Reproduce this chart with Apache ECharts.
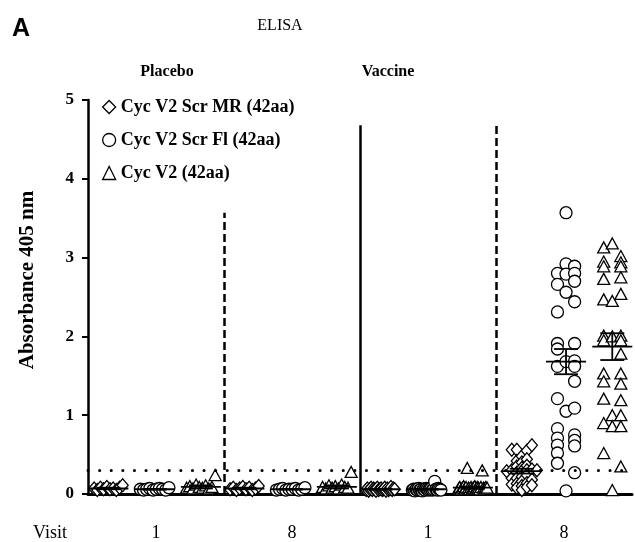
<!DOCTYPE html>
<html>
<head>
<meta charset="utf-8">
<script src="https://cdn.jsdelivr.net/npm/echarts@6/dist/echarts.min.js"></script>
<style>
  html, body { margin: 0; padding: 0; background: #fff; }
  #chart { width: 635px; height: 542px; }
</style>
</head>
<body>
<div id="chart"></div>
<script>
// groups on x: 0 = placebo visit 1, 1 = placebo visit 8, 2 = vaccine visit 1, 3 = vaccine visit 8
var visitLabels = ['1', '8', '1', '8'];
var yTicks = [0, 1, 2, 3, 4, 5];
var cutoff = 0.3;

// Cyc V2 Scr MR (diamonds), values near zero
var mrPlaceboV1 = [0.07, 0.05, 0.08, 0.06, 0.09, 0.06, 0.07, 0.05, 0.08, 0.11];
var mrPlaceboV8 = [0.06, 0.08, 0.05, 0.07, 0.09, 0.06, 0.08, 0.05, 0.07, 0.10];
var mrVaccineV1 = [0.05, 0.07, 0.04, 0.06, 0.08, 0.05, 0.07, 0.06, 0.04, 0.08, 0.05, 0.06,
                   0.07, 0.05, 0.06, 0.08, 0.04, 0.07, 0.05, 0.06, 0.09, 0.05, 0.07, 0.06];
// vaccine visit 8 diamonds, in lanes (left to right)
var mrVaccineV8 = [
  [0.29],
  [0.56, 0.30, 0.20, 0.12],
  [0.56, 0.42, 0.35, 0.27, 0.20, 0.13, 0.08],
  [0.48, 0.40, 0.33, 0.29, 0.22, 0.16, 0.10, 0.05],
  [0.55, 0.44, 0.36, 0.30, 0.24, 0.14, 0.09],
  [0.62, 0.31, 0.18, 0.11],
  [0.30]
];

// Cyc V2 Scr Fl (circles)
var flPlaceboV1 = [0.06, 0.05, 0.06, 0.07, 0.05, 0.06, 0.07, 0.06, 0.05, 0.08];
var flPlaceboV8 = [0.05, 0.06, 0.07, 0.05, 0.06, 0.06, 0.07, 0.05, 0.06, 0.08];
var flVaccineV1 = [0.05, 0.06, 0.04, 0.06, 0.05, 0.07, 0.05, 0.06, 0.04, 0.06, 0.05, 0.07,
                   0.06, 0.05, 0.06, 0.07, 0.05, 0.06, 0.16, 0.06, 0.05, 0.07, 0.06, 0.05];
var flVaccineV8 = [
  [2.80, 2.66, 2.31, 1.91, 1.84, 1.62, 1.21, 0.83, 0.71, 0.62, 0.52, 0.39],
  [3.57, 2.92, 2.79, 2.56, 1.68, 1.05, 0.04],
  [2.89, 2.80, 2.70, 2.44, 1.91, 1.69, 1.62, 1.43, 1.09, 0.75, 0.68, 0.61, 0.27]
];

// Cyc V2 (triangles)
var cycPlaceboV1 = [0.08, 0.10, 0.07, 0.12, 0.09, 0.08, 0.11, 0.07, 0.09, 0.24];
var cycPlaceboV8 = [0.09, 0.07, 0.11, 0.08, 0.10, 0.07, 0.12, 0.09, 0.08, 0.28];
var cycVaccineV1 = [0.07, 0.09, 0.06, 0.08, 0.10, 0.07, 0.09, 0.33, 0.08, 0.06, 0.09, 0.07,
                    0.08, 0.10, 0.07, 0.09, 0.08, 0.06, 0.09, 0.30, 0.08, 0.07, 0.09, 0.08];
var cycVaccineV8 = [
  [3.13, 2.95, 2.89, 2.73, 2.47, 2.01, 1.95, 1.53, 1.43, 1.21, 0.90, 0.52],
  [3.18, 2.45, 2.00, 1.00, 0.86, 0.05],
  [3.02, 2.94, 2.89, 2.75, 2.54, 2.01, 1.95, 1.78, 1.53, 1.40, 1.19, 1.00, 0.86, 0.35]
];

// mean and SEM per column: P1 D,C,T  P8 D,C,T  V1 D,C,T  V8 D,C,T
var meanVals = [0.07, 0.06, 0.09, 0.07, 0.06, 0.09, 0.06, 0.06, 0.08, 0.29, 1.68, 1.87];
var semVals = [0.01, 0.005, 0.02, 0.01, 0.005, 0.02, 0.005, 0.005, 0.015, 0.03, 0.16, 0.17];

var colOffset = { mr: 0.15, fl: 0.49, cyc: 0.83 };
var v8Offset = { mr: 0.19, fl: 0.515, cyc: 0.855 };

function spread(values, group, col) {
  var pts = [];
  var n = values.length;
  for (var i = 0; i < n; i++) {
    var x = group + col + (n > 1 ? (i / (n - 1) - 0.5) * 0.21 : 0);
    pts.push([x, values[i]]);
  }
  return pts;
}
function lanes(laneArr, group, center, step) {
  var pts = [];
  var mid = (laneArr.length - 1) / 2;
  for (var l = 0; l < laneArr.length; l++) {
    for (var i = 0; i < laneArr[l].length; i++) {
      pts.push([group + center + (l - mid) * step, laneArr[l][i]]);
    }
  }
  return pts;
}

var mrData = [].concat(spread(mrPlaceboV1, 0, colOffset.mr), spread(mrPlaceboV8, 1, colOffset.mr),
  spread(mrVaccineV1, 2, colOffset.mr), lanes(mrVaccineV8, 3, v8Offset.mr, 0.037));
var flData = [].concat(spread(flPlaceboV1, 0, colOffset.fl), spread(flPlaceboV8, 1, colOffset.fl),
  spread(flVaccineV1, 2, colOffset.fl), lanes(flVaccineV8, 3, v8Offset.fl, 0.063));
var cycData = [].concat(spread(cycPlaceboV1, 0, colOffset.cyc), spread(cycPlaceboV8, 1, colOffset.cyc),
  spread(cycVaccineV1, 2, colOffset.cyc), lanes(cycVaccineV8, 3, v8Offset.cyc, 0.063));

var meanData = [];
var cols = ['mr', 'fl', 'cyc'];
for (var g = 0; g < 4; g++) {
  for (var c = 0; c < 3; c++) {
    var off = g == 3 ? v8Offset[cols[c]] : colOffset[cols[c]];
    meanData.push([g + off, meanVals[g * 3 + c], semVals[g * 3 + c]]);
  }
}

var serif = 'Liberation Serif';
var symStyle = { color: '#fff', borderColor: '#000', borderWidth: 1.3, opacity: 1 };

var myChart = echarts.init(document.getElementById('chart'));
var option = {
  animation: false,
  backgroundColor: '#fff',
  grid: { left: 88, right: 0, top: 100, bottom: 46 },
  graphic: [
    { type: 'text', left: 12, top: 17, style: { text: 'A', font: 'bold 25px "Liberation Sans"', fill: '#000' } },
    { type: 'text', x: 280, y: 26, style: { text: 'ELISA', font: '16px "Liberation Serif"', fill: '#000', align: 'center', verticalAlign: 'middle' } },
    { type: 'text', x: 167, y: 72, style: { text: 'Placebo', font: 'bold 16px "Liberation Serif"', fill: '#000', align: 'center', verticalAlign: 'middle' } },
    { type: 'text', x: 388, y: 72, style: { text: 'Vaccine', font: 'bold 16px "Liberation Serif"', fill: '#000', align: 'center', verticalAlign: 'middle' } },
    { type: 'text', x: 28, y: 280, rotation: Math.PI / 2, style: { text: 'Absorbance 405 nm', font: 'bold 21px "Liberation Serif"', fill: '#000', align: 'center', verticalAlign: 'middle' } },
    { type: 'text', x: 50, y: 533, style: { text: 'Visit', font: '18px "Liberation Serif"', fill: '#000', align: 'center', verticalAlign: 'middle' } }
  ],
  legend: {
    orient: 'vertical',
    left: 97,
    top: 93,
    itemWidth: 13,
    itemHeight: 13,
    itemGap: 15,
    textStyle: { fontFamily: serif, fontWeight: 'bold', fontSize: 18, color: '#000' },
    data: [
      { name: 'Cyc V2 Scr MR (42aa)', icon: 'diamond', itemStyle: symStyle },
      { name: 'Cyc V2 Scr Fl (42aa)', icon: 'circle', itemStyle: symStyle },
      { name: 'Cyc V2 (42aa)', icon: 'triangle', itemStyle: symStyle }
    ]
  },
  xAxis: {
    type: 'value',
    min: 0,
    max: 4,
    interval: 0.5,
    axisLine: { lineStyle: { color: '#000', width: 3 } },
    axisTick: { show: false },
    splitLine: { show: false },
    axisLabel: {
      margin: 30,
      fontFamily: serif,
      fontSize: 18,
      color: '#000',
      formatter: function (v) {
        var k = v - 0.5;
        if (Math.abs(k - Math.round(k)) < 1e-6 && k >= 0 && k < 4) return visitLabels[Math.round(k)];
        return '';
      }
    }
  },
  yAxis: {
    type: 'value',
    min: yTicks[0],
    max: yTicks[yTicks.length - 1],
    interval: 1,
    axisLine: { show: true, lineStyle: { color: '#000', width: 2.5 } },
    axisTick: { show: true, length: 6, lineStyle: { color: '#000', width: 2 } },
    splitLine: { show: false },
    axisLabel: { margin: 14, fontFamily: serif, fontWeight: 'bold', fontSize: 17, color: '#000' }
  },
  series: [
    {
      name: 'Cyc V2 Scr MR (42aa)',
      type: 'scatter',
      symbol: 'diamond',
      symbolSize: [11, 13],
      itemStyle: symStyle,
      data: mrData
    },
    {
      name: 'Cyc V2 Scr Fl (42aa)',
      type: 'scatter',
      symbol: 'circle',
      symbolSize: 12,
      itemStyle: symStyle,
      data: flData
    },
    {
      name: 'Cyc V2 (42aa)',
      type: 'scatter',
      symbol: 'triangle',
      symbolSize: [12, 11],
      itemStyle: symStyle,
      data: cycData,
      markLine: {
        silent: true,
        symbol: ['none', 'none'],
        label: { show: false },
        data: [
          [{ coord: [1, 0], lineStyle: { type: [8, 4], width: 2.5, color: '#000' } }, { coord: [1, 3.57] }],
          [{ coord: [2, 0], lineStyle: { type: 'solid', width: 2.5, color: '#000' } }, { coord: [2, 4.68] }],
          [{ coord: [3, 0], lineStyle: { type: [8, 4], width: 2.5, color: '#000' } }, { coord: [3, 4.72] }],
          [{ coord: [0, cutoff], lineStyle: { type: [0.1, 11.5], cap: 'round', width: 3, color: '#000' } }, { coord: [4, cutoff] }]
        ]
      }
    },
    {
      name: 'mean',
      type: 'custom',
      z: 5,
      data: meanData,
      renderItem: function (params, api) {
        var x = api.value(0), m = api.value(1), s = api.value(2);
        var c = api.coord([x, m]);
        var top = api.coord([x, m + s]);
        var bot = api.coord([x, m - s]);
        var st = { stroke: '#000', lineWidth: 1.8 };
        return {
          type: 'group',
          children: [
            { type: 'line', shape: { x1: c[0] - 20, y1: c[1], x2: c[0] + 20, y2: c[1] }, style: st },
            { type: 'line', shape: { x1: c[0], y1: top[1], x2: c[0], y2: bot[1] }, style: st },
            { type: 'line', shape: { x1: c[0] - 12, y1: top[1], x2: c[0] + 12, y2: top[1] }, style: st },
            { type: 'line', shape: { x1: c[0] - 12, y1: bot[1], x2: c[0] + 12, y2: bot[1] }, style: st }
          ]
        };
      }
    }
  ]
};
myChart.setOption(option);
</script>
</body>
</html>
